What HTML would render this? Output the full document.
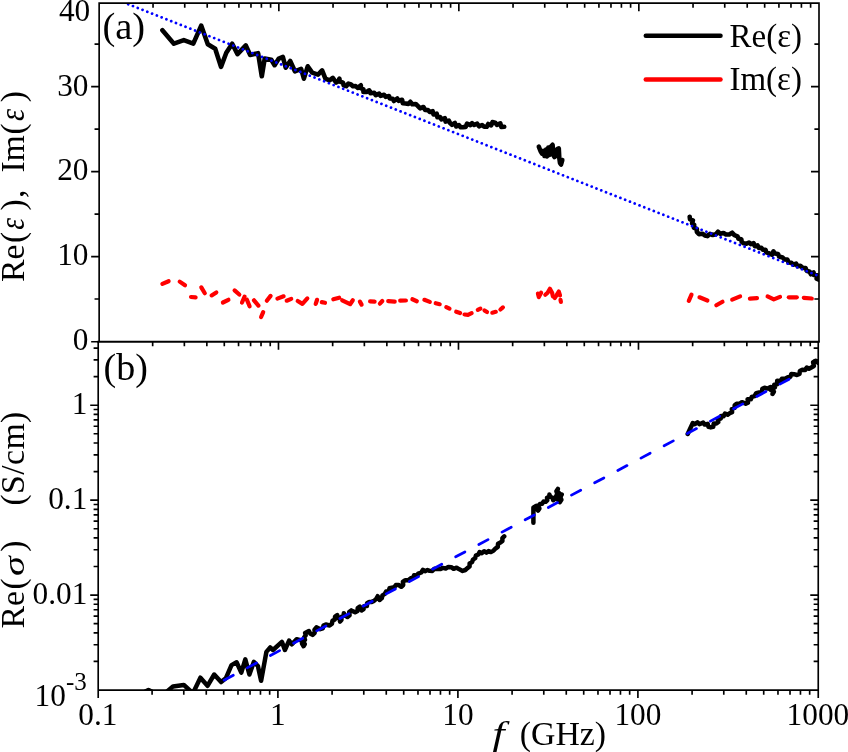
<!DOCTYPE html>
<html><head><meta charset="utf-8"><title>Re(ε), Im(ε) and Re(σ) vs f</title>
<style>html,body{margin:0;padding:0;background:#fff}svg{display:block}</style></head>
<body>
<svg width="848" height="752" viewBox="0 0 848 752">
<rect width="848" height="752" fill="#fff"/>
<defs><clipPath id="ca"><rect x="99.15" y="3.15" width="719.85" height="338.55"/></clipPath><clipPath id="cb"><rect x="98.2" y="341.7" width="720.05" height="348.35"/></clipPath></defs>
<g clip-path="url(#ca)" fill="none" stroke-linejoin="round" stroke-linecap="round">
<polyline points="162.4,30.2 173.9,43.7 183.8,40.1 193.3,43.7 201.2,25.6 207.8,44.2 215.2,48.7 221.0,66.9 226.3,52.8 232.2,43.7 237.5,54.1 245.8,45.4 250.2,55.0 258.1,53.2 261.8,76.3 264.7,58.6 271.3,59.8 274.6,65.2 278.8,58.6 282.9,57.0 285.7,67.7 290.2,61.0 294.9,71.3 301.1,68.8 303.9,78.7 307.7,66.3 312.2,72.6 318.0,74.6 322.1,70.4 325.4,78.7 329.5,80.4 332.8,77.9 336.1,82.5 338.4,81.2 339.4,78.7 339.8,81.5 343.0,82.6 343.6,85.3 346.2,86.2 348.4,83.6 351.0,84.5 352.9,86.2 355.7,86.1 357.6,87.8 360.9,85.3 360.4,88.0 363.4,89.4 363.4,91.9 366.5,91.9 369.2,90.3 370.5,93.2 374.2,92.7 375.8,95.2 379.1,93.6 380.7,95.9 384.0,94.8 385.7,96.9 389.0,96.0 389.8,98.5 392.8,98.8 393.9,101.0 397.2,98.5 398.6,100.8 402.1,99.8 402.8,103.2 405.5,103.5 408.4,103.9 410.4,101.8 412.3,104.3 415.8,104.0 418.0,106.1 420.0,108.3 423.4,107.0 425.2,110.0 428.0,110.1 429.7,111.9 432.7,111.2 433.5,114.5 436.7,113.6 437.4,117.2 440.1,117.1 441.4,119.4 444.9,118.2 445.6,121.6 448.8,120.7 450.1,123.1 452.0,124.8 454.9,123.0 456.2,126.5 459.0,125.1 460.7,127.2 463.1,127.1 465.7,126.9 467.0,123.7 470.3,125.1 472.1,123.1 474.2,125.0 477.2,123.7 479.0,126.3 482.1,125.0 484.2,126.7 486.7,126.8 488.2,124.0 491.2,125.4 492.5,122.1 495.2,122.7 496.9,124.9 500.3,123.3 501.4,127.0 504.2,126.7" stroke="#000" stroke-width="4.6"/>
<polyline points="538.8,146.6 540.5,151.0 542.0,153.5 543.5,151.0 544.5,156.0 546.0,149.5 547.0,156.5 548.3,147.5 549.5,155.0 550.5,147.0 552.6,144.8 553.3,155.0 554.5,157.0 555.5,150.0 556.5,156.0 557.5,149.0 558.8,148.5 559.3,158.0 560.0,163.0 561.0,164.5 562.3,160.0" stroke="#000" stroke-width="4.6"/>
<polyline points="689.7,216.8 690.0,219.3 692.9,220.3 692.1,223.3 694.2,224.8 693.9,227.6 696.9,229.1 696.8,231.8 699.0,234.1 702.4,233.7 704.8,235.4 707.5,236.1 710.0,233.9 712.7,235.0 715.9,234.3 718.0,231.8 720.3,233.8 723.5,233.0 726.0,234.5 729.3,234.4 732.2,232.7 734.4,235.1 737.5,236.3 738.4,238.7 741.3,239.2 741.7,241.9 743.7,243.3 746.5,243.6 749.0,242.5 750.8,244.1 753.6,243.2 754.8,246.2 757.5,245.4 758.9,247.9 761.4,247.8 762.8,249.6 765.5,249.7 766.3,252.3 768.5,253.1 772.0,254.8 773.4,251.3 774.9,253.5 778.0,254.0 779.1,256.6 782.6,257.5 784.4,259.4 787.4,259.6 788.6,262.5 791.4,262.8 793.3,264.7 796.1,263.6 797.7,266.2 800.3,265.8 802.6,267.8 805.6,268.1 806.6,270.8 809.7,271.8 810.9,274.3 813.6,272.5 813.9,275.0 817.1,275.4 816.6,278.6 818.9,279.6" stroke="#000" stroke-width="4.6"/>
<polyline points="162.4,283.9 168.6,281.2" stroke="#f00" stroke-width="4.2"/>
<polyline points="179.7,281.6 185.0,285.3" stroke="#f00" stroke-width="4.2"/>
<polyline points="191.0,297.0 195.6,297.3" stroke="#f00" stroke-width="4.2"/>
<polyline points="201.3,287.4 204.8,293.3" stroke="#f00" stroke-width="4.2"/>
<polyline points="211.6,295.4 216.3,292.4" stroke="#f00" stroke-width="4.2"/>
<polyline points="222.9,302.5 228.4,299.8" stroke="#f00" stroke-width="4.2"/>
<polyline points="234.6,290.4 239.3,294.5" stroke="#f00" stroke-width="4.2"/>
<polyline points="242.0,302.5 244.6,296.6" stroke="#f00" stroke-width="4.2"/>
<polyline points="246.9,299.8 249.6,306.3" stroke="#f00" stroke-width="4.2"/>
<polyline points="254.0,300.3 258.4,305.6" stroke="#f00" stroke-width="4.2"/>
<polyline points="261.1,317.0 263.2,312.2" stroke="#f00" stroke-width="4.2"/>
<polyline points="266.8,300.7 270.6,295.9" stroke="#f00" stroke-width="4.2"/>
<polyline points="277.4,298.6 283.6,296.3" stroke="#f00" stroke-width="4.2"/>
<polyline points="286.7,300.7 291.2,298.9" stroke="#f00" stroke-width="4.2"/>
<polyline points="297.7,301.0 302.4,303.9 307.3,298.4" stroke="#f00" stroke-width="4.2"/>
<polyline points="315.7,303.9 317.1,299.8" stroke="#f00" stroke-width="4.2"/>
<polyline points="321.8,302.1 325.0,302.8" stroke="#f00" stroke-width="4.2"/>
<polyline points="333.3,299.3 339.2,297.7" stroke="#f00" stroke-width="4.2"/>
<polyline points="342.2,300.3 350.1,304.2 352.8,300.3" stroke="#f00" stroke-width="4.2"/>
<polyline points="359.9,301.6 361.6,304.6" stroke="#f00" stroke-width="4.2"/>
<polyline points="370.1,301.4 374.6,301.7" stroke="#f00" stroke-width="4.2"/>
<polyline points="379.9,303.7 382.3,301.0" stroke="#f00" stroke-width="4.2"/>
<polyline points="388.2,301.2 394.7,301.6" stroke="#f00" stroke-width="4.2"/>
<polyline points="400.2,300.7 405.9,300.5" stroke="#f00" stroke-width="4.2"/>
<polyline points="412.4,299.3 416.8,301.2" stroke="#f00" stroke-width="4.2"/>
<polyline points="424.4,299.8 429.8,301.9" stroke="#f00" stroke-width="4.2"/>
<polyline points="435.7,303.2 439.7,304.2" stroke="#f00" stroke-width="4.2"/>
<polyline points="446.3,307.1 449.5,308.6" stroke="#f00" stroke-width="4.2"/>
<polyline points="456.2,311.7 460.1,313.1" stroke="#f00" stroke-width="4.2"/>
<polyline points="464.5,314.5 468.0,314.8 471.6,313.1" stroke="#f00" stroke-width="4.2"/>
<polyline points="477.8,309.9 480.4,308.6" stroke="#f00" stroke-width="4.2"/>
<polyline points="484.5,310.4 487.0,312.0" stroke="#f00" stroke-width="4.2"/>
<polyline points="492.3,312.7 495.8,311.8" stroke="#f00" stroke-width="4.2"/>
<polyline points="500.4,309.5 502.9,307.4" stroke="#f00" stroke-width="4.2"/>
<polyline points="537.9,293.6 538.8,297.1 541.1,292.7" stroke="#f00" stroke-width="4.2"/>
<polyline points="545.3,294.8 547.6,292.7 549.9,288.8 552.1,292.7 552.9,296.3" stroke="#f00" stroke-width="4.2"/>
<polyline points="554.7,298.0 556.5,295.4 558.8,291.5 560.0,295.4" stroke="#f00" stroke-width="4.2"/>
<polyline points="560.5,299.8 560.9,301.9" stroke="#f00" stroke-width="4.2"/>
<polyline points="688.8,300.8 691.5,294.6" stroke="#f00" stroke-width="4.2"/>
<polyline points="699.5,297.3 707.4,300.5" stroke="#f00" stroke-width="4.2"/>
<polyline points="716.3,305.3 722.5,301.7" stroke="#f00" stroke-width="4.2"/>
<polyline points="732.2,299.6 740.1,296.4" stroke="#f00" stroke-width="4.2"/>
<polyline points="749.9,298.7 757.0,298.2" stroke="#f00" stroke-width="4.2"/>
<polyline points="767.6,296.4 773.8,299.4 780.0,296.9" stroke="#f00" stroke-width="4.2"/>
<polyline points="788.8,297.3 796.8,297.3" stroke="#f00" stroke-width="4.2"/>
<polyline points="803.8,297.8 811.8,298.5" stroke="#f00" stroke-width="4.2"/>
<line x1="118.0" y1="0.19" x2="820" y2="276.42" stroke="#00f" stroke-width="2.75" stroke-dasharray="0.01 5.125" stroke-dashoffset="-0.692"/>
</g>
<g clip-path="url(#cb)" fill="none" stroke-linejoin="round" stroke-linecap="round">
<polyline points="145.5,691.5 148.5,689.9 151.5,691.5" stroke="#000" stroke-width="4.5"/>
<polyline points="166.5,692.0 173.0,686.4 183.8,684.9 190.9,691.5 193.8,691.5 200.4,677.7 207.5,685.8 214.2,674.5 221.1,682.1 225.8,678.3 231.5,665.1 236.6,662.3 241.3,672.6 245.3,659.4 249.4,674.5 253.8,661.9 257.9,666.0 261.1,680.8 266.4,651.9 270.2,647.5 273.0,650.0 281.9,641.9 284.9,650.0 289.1,640.6 291.9,644.3 296.6,639.2 302.3,640.6 302.0,643.6 303.6,646.2 304.8,644.1 303.3,641.7 305.0,639.7 304.1,637.3 305.7,635.3 305.1,633.0 308.9,631.1 310.2,633.5 312.6,634.9 314.7,632.8 314.5,629.6 316.4,627.4 320.2,629.2 322.7,628.4 323.5,625.6 325.8,624.5 329.6,625.5 331.9,623.7 332.5,620.8 334.8,619.5 335.1,616.5 337.2,615.1 337.4,617.6 339.9,619.1 340.0,621.7 341.5,619.8 341.1,617.1 343.8,615.7 343.8,613.2 345.2,615.6 347.5,617.0 349.6,615.3 349.2,612.1 351.3,610.4 355.1,612.3 357.5,611.0 357.7,608.1 359.8,606.6 361.7,610.4 363.6,609.1 364.0,606.3 366.9,606.0 367.1,603.1 369.2,601.9 371.7,601.9 374.0,600.9 376.3,598.9 377.7,596.2 379.6,600.0 381.8,598.1 382.5,595.3 384.8,593.9 386.2,591.5 388.7,591.1 389.5,588.3 391.9,587.7 394.3,587.3 395.9,585.0 398.5,584.9 401.3,586.8 403.2,585.0 402.9,581.9 405.1,580.2 408.3,580.3 410.8,578.3 413.1,577.8 414.1,575.2 416.9,575.6 418.3,573.6 421.3,572.5 423.0,569.8 425.0,571.2 427.5,570.0 429.6,570.8 432.3,570.9 434.5,568.7 437.2,568.9 440.1,569.1 442.8,567.9 445.7,568.5 448.4,566.9 451.3,567.2 453.6,568.8 456.6,567.7 458.9,569.1 462.6,570.9 465.3,570.0 467.4,568.1 469.6,566.5 469.6,563.5 472.1,562.1 473.0,559.6 475.2,558.2 475.9,555.5 478.4,554.4 479.6,552.1 481.9,553.1 484.1,551.2 486.4,552.6 488.6,551.1 490.9,552.1 493.6,550.6 495.7,548.3 497.8,546.8 498.0,543.8 500.4,542.6 502.4,541.0 502.4,538.1 504.2,536.4" stroke="#000" stroke-width="4.5"/>
<polyline points="533.4,522.8 533.4,507.7 533.4,507.7 536.2,505.8 536.4,508.5 538.1,510.6 539.4,508.6 538.4,505.9 540.0,504.0 542.1,503.8 543.5,501.6 545.7,501.7 547.3,500.3 547.0,497.8 549.3,496.7 549.4,494.5 550.2,496.7 552.6,497.8 553.2,500.2 555.1,498.7 556.0,496.4 557.2,494.0 556.4,491.2 557.9,488.9 557.1,491.3 559.2,493.2 558.2,495.6 560.1,497.6 558.3,500.1 559.8,502.1 561.4,499.8 560.3,496.8 561.7,494.5" stroke="#000" stroke-width="4.5"/>
<polyline points="687.7,434.0 692.8,423.0 694.8,424.2 697.5,422.3 699.4,424.2 703.2,422.6 704.7,424.5 707.7,423.9 708.5,426.8 710.8,427.4 713.2,426.9 713.7,423.6 716.4,423.6 718.3,422.1 717.7,419.2 720.8,418.5 721.1,416.0 723.6,416.3 725.0,413.6 727.7,414.7 729.6,413.2 732.1,412.1 731.8,409.0 734.5,408.0 734.7,405.2 736.6,403.7 739.5,403.8 741.9,402.2 745.7,403.7 748.0,402.7 747.6,399.3 750.9,399.3 751.7,396.9 754.6,396.1 756.2,393.1 759.2,392.4 762.0,392.0 762.3,388.8 764.5,387.8 767.7,388.6 770.6,387.1 770.3,389.6 773.1,391.3 772.5,393.9 773.9,391.8 772.2,389.1 774.9,387.3 774.3,384.8 777.0,384.3 777.2,380.7 780.7,381.2 781.9,378.8 785.1,378.8 787.9,377.3 790.3,376.9 791.3,373.9 794.0,374.2 797.0,375.0 799.5,374.0 799.9,370.9 802.3,369.7 805.2,369.9 806.8,367.5 809.0,368.7 811.3,367.5 813.9,366.0 813.1,362.2 815.8,360.7 818.1,362.9" stroke="#000" stroke-width="4.5"/>
<line x1="224.1" y1="680.2" x2="790.0" y2="378.75" stroke="#00f" stroke-width="2.75" stroke-linecap="round" stroke-dasharray="10.42 15.82"/>
</g>
<g stroke="#000" stroke-width="1.65" fill="none" stroke-linecap="butt">
<path d="M99.15 341.7V3.15H819.0V341.7" stroke-linejoin="miter"/>
<path d="M98.2 341.7V698.05M97.375 690.05H819.075M818.25 698.05V341.7"/>
<line x1="97.375" y1="341.7" x2="819.825" y2="341.7" stroke-width="2.0"/>
<path d="M153.04 3.15v4.6M184.73 3.15v4.6M207.22 3.15v4.6M224.66 3.15v4.6M238.92 3.15v4.6M250.97 3.15v4.6M261.41 3.15v4.6M270.61 3.15v4.6M278.85 3.15v8M333.04 3.15v4.6M364.73 3.15v4.6M387.22 3.15v4.6M404.66 3.15v4.6M418.92 3.15v4.6M430.97 3.15v4.6M441.41 3.15v4.6M450.61 3.15v4.6M458.85 3.15v8M513.04 3.15v4.6M544.73 3.15v4.6M567.22 3.15v4.6M584.66 3.15v4.6M598.92 3.15v4.6M610.97 3.15v4.6M621.41 3.15v4.6M630.61 3.15v4.6M638.85 3.15v8M693.04 3.15v4.6M724.73 3.15v4.6M747.22 3.15v4.6M764.66 3.15v4.6M778.92 3.15v4.6M790.97 3.15v4.6M801.41 3.15v4.6M810.61 3.15v4.6M152.66 341.7v4.6M184.36 341.7v4.6M206.85 341.7v4.6M224.29 341.7v4.6M238.54 341.7v4.6M250.59 341.7v4.6M261.03 341.7v4.6M270.24 341.7v4.6M278.48 341.7v8M332.66 341.7v4.6M364.36 341.7v4.6M386.85 341.7v4.6M404.29 341.7v4.6M418.54 341.7v4.6M430.59 341.7v4.6M441.03 341.7v4.6M450.24 341.7v4.6M458.48 341.7v8M512.66 341.7v4.6M544.36 341.7v4.6M566.85 341.7v4.6M584.29 341.7v4.6M598.54 341.7v4.6M610.59 341.7v4.6M621.03 341.7v4.6M630.24 341.7v4.6M638.48 341.7v8M692.66 341.7v4.6M724.36 341.7v4.6M746.85 341.7v4.6M764.29 341.7v4.6M778.54 341.7v4.6M790.59 341.7v4.6M801.03 341.7v4.6M810.24 341.7v4.6M152.09 690.05v4.6M183.78 690.05v4.6M206.27 690.05v4.6M223.71 690.05v4.6M237.97 690.05v4.6M250.02 690.05v4.6M260.46 690.05v4.6M269.66 690.05v4.6M277.90 690.05v8M332.09 690.05v4.6M363.78 690.05v4.6M386.27 690.05v4.6M403.71 690.05v4.6M417.97 690.05v4.6M430.02 690.05v4.6M440.46 690.05v4.6M449.66 690.05v4.6M457.90 690.05v8M512.09 690.05v4.6M543.78 690.05v4.6M566.27 690.05v4.6M583.71 690.05v4.6M597.97 690.05v4.6M610.02 690.05v4.6M620.46 690.05v4.6M629.66 690.05v4.6M637.90 690.05v8M692.09 690.05v4.6M723.78 690.05v4.6M746.27 690.05v4.6M763.71 690.05v4.6M777.97 690.05v4.6M790.02 690.05v4.6M800.46 690.05v4.6M809.66 690.05v4.6M99.15 341.70h-8M819.0 341.70h-8M99.15 299.02h-4.6M819.0 299.02h-4.6M99.15 256.55h-8M819.0 256.55h-8M99.15 214.08h-4.6M819.0 214.08h-4.6M99.15 171.60h-8M819.0 171.60h-8M99.15 129.13h-4.6M819.0 129.13h-4.6M99.15 86.65h-8M819.0 86.65h-8M99.15 44.18h-4.6M819.0 44.18h-4.6M98.2 661.41h-4.6M818.25 661.41h-4.6M98.2 644.70h-4.6M818.25 644.70h-4.6M98.2 632.84h-4.6M818.25 632.84h-4.6M98.2 623.64h-4.6M818.25 623.64h-4.6M98.2 616.12h-4.6M818.25 616.12h-4.6M98.2 609.76h-4.6M818.25 609.76h-4.6M98.2 604.26h-4.6M818.25 604.26h-4.6M98.2 599.40h-4.6M818.25 599.40h-4.6M98.2 595.06h-8M818.25 595.06h-8M98.2 566.48h-4.6M818.25 566.48h-4.6M98.2 549.77h-4.6M818.25 549.77h-4.6M98.2 537.91h-4.6M818.25 537.91h-4.6M98.2 528.71h-4.6M818.25 528.71h-4.6M98.2 521.19h-4.6M818.25 521.19h-4.6M98.2 514.83h-4.6M818.25 514.83h-4.6M98.2 509.33h-4.6M818.25 509.33h-4.6M98.2 504.47h-4.6M818.25 504.47h-4.6M98.2 500.13h-8M818.25 500.13h-8M98.2 471.55h-4.6M818.25 471.55h-4.6M98.2 454.84h-4.6M818.25 454.84h-4.6M98.2 442.98h-4.6M818.25 442.98h-4.6M98.2 433.78h-4.6M818.25 433.78h-4.6M98.2 426.26h-4.6M818.25 426.26h-4.6M98.2 419.90h-4.6M818.25 419.90h-4.6M98.2 414.40h-4.6M818.25 414.40h-4.6M98.2 409.54h-4.6M818.25 409.54h-4.6M98.2 405.20h-8M818.25 405.20h-8M98.2 376.62h-4.6M818.25 376.62h-4.6M98.2 359.91h-4.6M818.25 359.91h-4.6M98.2 348.05h-4.6M818.25 348.05h-4.6"/>
</g>
<line x1="645.8" y1="35.8" x2="720.5" y2="35.8" stroke="#000" stroke-width="4.5" stroke-linecap="round"/>
<line x1="645.8" y1="79.5" x2="720.5" y2="79.5" stroke="#f00" stroke-width="4.5" stroke-linecap="round"/>
<g font-family="'Liberation Serif', 'Times New Roman', serif" fill="#000" font-size="31.3">
<text x="729.6" y="47" font-size="33">Re(ε)</text>
<text x="729.4" y="90" font-size="33">Im(ε)</text>
<text x="102.4" y="38.5" font-size="38.5">(a)</text>
<text x="103.5" y="379.6" font-size="38">(b)</text>
<text x="88.5" y="350.3" text-anchor="end">0</text>
<text x="88.5" y="265.4" text-anchor="end">10</text>
<text x="88.5" y="180.4" text-anchor="end">20</text>
<text x="88.5" y="95.5" text-anchor="end">30</text>
<text x="90.2" y="21" text-anchor="end">40</text>
<text x="87.3" y="413.7" text-anchor="end">1</text>
<text x="87.3" y="508.6" text-anchor="end">0.1</text>
<text x="87.3" y="603.6" text-anchor="end">0.01</text>
<text x="34.6" y="706.2">10<tspan font-size="25" dy="-16.5">-3</tspan></text>
<text x="97.9" y="724.6" text-anchor="middle">0.1</text>
<text x="277.9" y="724.6" text-anchor="middle">1</text>
<text x="457.9" y="724.6" text-anchor="middle">10</text>
<text x="637.9" y="724.6" text-anchor="middle">100</text>
<text x="817.9" y="724.6" text-anchor="middle">1000</text>
<text y="744.6" font-size="33.7" xml:space="preserve"><tspan x="492.6" font-style="italic" font-size="33.5" textLength="12.1" lengthAdjust="spacingAndGlyphs">f</tspan><tspan x="510"> </tspan><tspan x="519.8" textLength="86.3" lengthAdjust="spacingAndGlyphs">(GHz)</tspan></text>
<text transform="translate(23.6 281) rotate(-90)" font-size="33.7" xml:space="preserve"><tspan x="-1" >Re</tspan><tspan x="38.1" >(</tspan><tspan x="51.3" dy="0.8" font-style="italic" font-size="35" textLength="11.72" lengthAdjust="spacingAndGlyphs">ε</tspan><tspan x="70.6" dy="-0.8">)</tspan><tspan x="82.9" >,</tspan><tspan x="95" > </tspan><tspan x="108.4" >Im</tspan><tspan x="146.6" >(</tspan><tspan x="160.1" dy="0.8" font-style="italic" font-size="35" textLength="12.14" lengthAdjust="spacingAndGlyphs">ε</tspan><tspan x="178.7" dy="-0.8">)</tspan></text>
<text transform="translate(23.6 627.5) rotate(-90)" font-size="33.7" xml:space="preserve"><tspan x="-1" >Re</tspan><tspan x="38" >(</tspan><tspan x="51.5" dy="0.5" font-style="italic" font-size="29.5" textLength="19.78" lengthAdjust="spacingAndGlyphs">σ</tspan><tspan x="75.7" dy="-0.5">)</tspan><tspan x="100" > </tspan><tspan x="121.9" textLength="93.9" lengthAdjust="spacing">(S/cm)</tspan></text>
</g>
</svg>
</body></html>
